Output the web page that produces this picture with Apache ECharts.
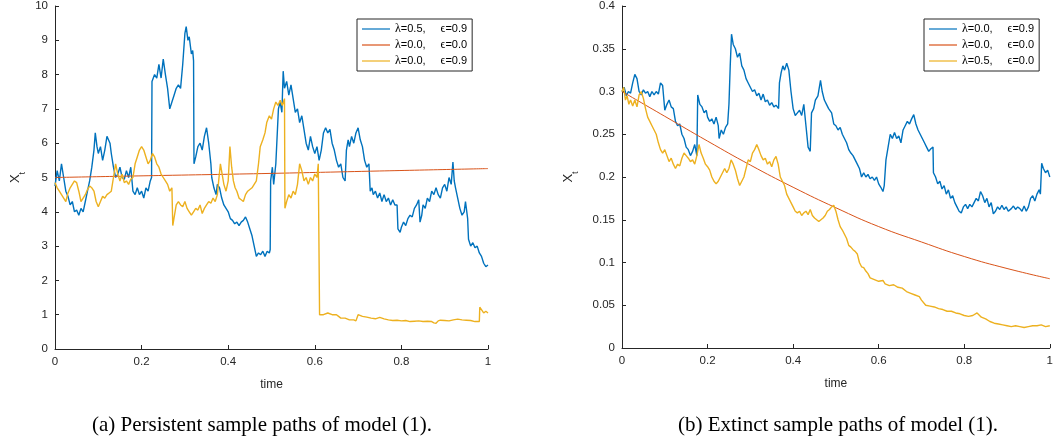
<!DOCTYPE html>
<html>
<head>
<meta charset="utf-8">
<script src="https://cdn.jsdelivr.net/npm/echarts@6/dist/echarts.min.js"></script>
<style>html,body{margin:0;padding:0;background:#fff;}#c{width:1056px;height:440px;}</style>
</head>
<body>
<div id="c"></div>
<script>
// ---- Data ----
const xTicks = [0, 0.2, 0.4, 0.6, 0.8, 1];
const legendA = ['λ=0.5|ϵ=0.9', 'λ=0.0|ϵ=0.0', 'λ=0.0|ϵ=0.9'];
const legendB = ['λ=0.0|ϵ=0.9', 'λ=0.0|ϵ=0.0', 'λ=0.5|ϵ=0.0'];
const captionA = '(a) Persistent sample paths of model (1).';
const captionB = '(b) Extinct sample paths of model (1).';

// Panel (a)
const aBlue = [[0,4.75],[0.005,5.2],[0.01,4.9],[0.015,5.4],[0.02,5.0],[0.025,4.6],[0.03,4.45],[0.035,4.2],[0.04,4.3],[0.045,4.0],[0.05,4.05],[0.055,3.9],[0.06,4.1],[0.065,4.0],[0.07,4.3],[0.075,4.6],[0.08,4.9],[0.085,5.3],[0.09,5.8],[0.093,6.3],[0.097,5.9],[0.1,5.7],[0.105,5.9],[0.11,5.5],[0.115,5.8],[0.12,6.2],[0.123,6.25],[0.127,6.0],[0.13,5.7],[0.135,5.3],[0.14,5.0],[0.145,5.1],[0.15,5.3],[0.155,5.0],[0.16,4.95],[0.165,5.2],[0.17,5.0],[0.175,5.3],[0.18,4.6],[0.185,4.5],[0.19,4.7],[0.195,4.5],[0.2,4.6],[0.205,4.4],[0.21,4.7],[0.215,4.6],[0.22,4.9],[0.223,5.0],[0.224,7.8],[0.23,8.0],[0.235,7.9],[0.24,8.3],[0.245,7.9],[0.25,8.45],[0.255,8.0],[0.26,7.6],[0.265,7.0],[0.27,7.2],[0.275,7.4],[0.28,7.6],[0.285,7.7],[0.29,7.6],[0.295,8.3],[0.3,9.2],[0.303,9.4],[0.307,9.0],[0.31,9.1],[0.315,8.6],[0.318,8.7],[0.32,8.4],[0.321,5.4],[0.325,5.6],[0.33,5.9],[0.335,6.0],[0.34,5.8],[0.345,6.2],[0.35,6.45],[0.355,6.0],[0.36,5.4],[0.362,5.0],[0.367,4.7],[0.372,4.5],[0.375,4.8],[0.38,4.7],[0.385,4.4],[0.39,4.2],[0.395,4.1],[0.4,4.0],[0.405,3.8],[0.41,3.75],[0.415,3.65],[0.42,3.7],[0.425,3.6],[0.43,3.7],[0.435,3.75],[0.44,3.85],[0.445,3.7],[0.45,3.5],[0.455,3.3],[0.46,3.0],[0.465,2.7],[0.47,2.8],[0.475,2.75],[0.48,2.85],[0.485,2.7],[0.49,2.85],[0.495,2.8],[0.497,2.9],[0.498,4.9],[0.502,5.3],[0.505,4.8],[0.51,5.4],[0.513,6.2],[0.516,7.0],[0.52,7.2],[0.524,6.9],[0.527,8.1],[0.53,7.6],[0.535,7.8],[0.54,7.4],[0.545,7.7],[0.55,7.3],[0.555,6.9],[0.56,7.0],[0.565,6.6],[0.57,6.8],[0.575,6.4],[0.58,6.0],[0.585,5.8],[0.59,6.2],[0.595,5.9],[0.6,5.7],[0.605,5.9],[0.61,5.5],[0.615,5.8],[0.62,6.3],[0.625,6.45],[0.63,6.3],[0.635,6.4],[0.64,6.0],[0.645,5.8],[0.65,5.5],[0.655,5.3],[0.66,5.4],[0.665,5.0],[0.67,4.9],[0.673,5.8],[0.677,6.1],[0.68,5.9],[0.685,6.2],[0.69,6.0],[0.695,6.3],[0.7,6.45],[0.705,6.1],[0.71,5.9],[0.715,5.5],[0.72,5.3],[0.725,5.4],[0.728,4.6],[0.732,4.7],[0.735,4.5],[0.74,4.6],[0.745,4.4],[0.75,4.55],[0.755,4.3],[0.76,4.5],[0.765,4.3],[0.77,4.4],[0.775,4.2],[0.78,4.35],[0.785,4.2],[0.79,4.2],[0.792,3.5],[0.797,3.4],[0.8,3.55],[0.805,3.7],[0.81,3.6],[0.815,3.8],[0.82,3.9],[0.825,3.85],[0.83,4.1],[0.835,4.2],[0.84,4.35],[0.843,3.7],[0.847,3.9],[0.85,4.2],[0.855,4.1],[0.86,4.4],[0.865,4.3],[0.87,4.6],[0.875,4.5],[0.88,4.7],[0.885,4.5],[0.89,4.4],[0.895,4.7],[0.9,4.8],[0.905,4.6],[0.91,5.0],[0.915,4.8],[0.919,5.45],[0.922,4.9],[0.925,4.7],[0.93,4.4],[0.935,4.1],[0.94,3.9],[0.945,4.0],[0.948,4.3],[0.951,4.35],[0.953,3.8],[0.955,3.2],[0.96,3.0],[0.965,3.1],[0.97,2.95],[0.975,3.0],[0.98,2.8],[0.985,2.7],[0.99,2.5],[0.995,2.4],[1.0,2.45]];
const aRed = [[0,5.0],[0.25,5.06],[0.5,5.12],[0.75,5.19],[1,5.26]];
const aYellow = [[0,4.85],[0.005,4.7],[0.01,4.6],[0.015,4.5],[0.02,4.4],[0.025,4.3],[0.03,4.55],[0.035,4.7],[0.04,4.8],[0.045,4.9],[0.05,4.85],[0.055,4.6],[0.06,4.3],[0.065,4.4],[0.07,4.5],[0.075,4.65],[0.08,4.75],[0.085,4.7],[0.09,4.6],[0.095,4.3],[0.1,4.15],[0.105,4.3],[0.11,4.45],[0.115,4.4],[0.12,4.5],[0.125,4.55],[0.13,4.6],[0.135,5.0],[0.14,5.4],[0.145,5.1],[0.15,4.9],[0.155,5.1],[0.16,4.85],[0.165,4.9],[0.17,4.8],[0.175,4.95],[0.18,5.0],[0.185,5.4],[0.19,5.6],[0.195,5.8],[0.2,5.9],[0.205,5.8],[0.21,5.6],[0.215,5.4],[0.22,5.5],[0.225,5.7],[0.23,5.6],[0.235,5.4],[0.24,5.3],[0.245,5.1],[0.25,5.0],[0.255,4.9],[0.26,4.8],[0.265,4.6],[0.27,4.7],[0.272,3.6],[0.276,3.9],[0.28,4.2],[0.285,4.3],[0.29,4.2],[0.295,4.15],[0.3,4.3],[0.305,4.1],[0.31,4.0],[0.315,3.9],[0.32,4.0],[0.325,4.1],[0.33,4.05],[0.335,4.2],[0.34,3.95],[0.345,4.1],[0.35,4.2],[0.355,4.3],[0.36,4.25],[0.365,4.4],[0.37,4.3],[0.375,4.5],[0.378,4.9],[0.382,5.4],[0.386,5.1],[0.39,4.8],[0.395,4.6],[0.4,4.9],[0.404,5.9],[0.408,5.3],[0.412,4.9],[0.416,4.7],[0.42,4.6],[0.425,4.4],[0.43,4.35],[0.435,4.3],[0.44,4.5],[0.445,4.6],[0.45,4.65],[0.455,4.7],[0.46,4.8],[0.465,4.9],[0.47,5.4],[0.474,5.9],[0.48,6.1],[0.485,6.3],[0.489,6.6],[0.495,6.8],[0.5,6.7],[0.505,7.0],[0.51,7.2],[0.515,7.1],[0.52,7.25],[0.525,7.1],[0.53,7.3],[0.531,4.1],[0.535,4.3],[0.54,4.5],[0.545,4.4],[0.55,4.6],[0.555,4.5],[0.56,4.8],[0.565,5.4],[0.57,5.2],[0.575,4.9],[0.58,5.0],[0.585,4.8],[0.59,5.0],[0.595,4.9],[0.6,5.1],[0.605,5.0],[0.608,5.4],[0.61,5.4],[0.611,1.0],[0.62,1.0],[0.63,1.05],[0.64,1.0],[0.65,1.0],[0.655,0.95],[0.66,0.9],[0.67,0.9],[0.68,0.85],[0.69,0.85],[0.695,0.82],[0.7,1.0],[0.71,0.95],[0.72,0.93],[0.73,0.9],[0.74,0.88],[0.75,0.92],[0.76,0.88],[0.77,0.85],[0.78,0.83],[0.79,0.84],[0.8,0.82],[0.81,0.83],[0.82,0.8],[0.83,0.81],[0.84,0.82],[0.85,0.8],[0.86,0.81],[0.87,0.8],[0.875,0.76],[0.88,0.75],[0.885,0.82],[0.89,0.84],[0.9,0.83],[0.91,0.82],[0.92,0.85],[0.93,0.87],[0.94,0.85],[0.95,0.84],[0.96,0.83],[0.97,0.8],[0.98,0.8],[0.981,1.22],[0.985,1.2],[0.99,1.05],[0.995,1.1],[1.0,1.05]];

// Panel (b)
const bBlue = [[0,0.3],[0.005,0.305],[0.01,0.295],[0.015,0.3],[0.02,0.298],[0.025,0.31],[0.03,0.32],[0.035,0.315],[0.04,0.3],[0.045,0.296],[0.05,0.302],[0.055,0.298],[0.06,0.3],[0.065,0.294],[0.07,0.3],[0.075,0.296],[0.08,0.3],[0.085,0.297],[0.09,0.31],[0.095,0.307],[0.1,0.278],[0.105,0.285],[0.11,0.29],[0.115,0.282],[0.12,0.28],[0.125,0.265],[0.13,0.26],[0.135,0.262],[0.14,0.25],[0.145,0.245],[0.15,0.235],[0.155,0.232],[0.16,0.225],[0.165,0.23],[0.17,0.238],[0.175,0.225],[0.177,0.296],[0.182,0.285],[0.187,0.282],[0.192,0.275],[0.197,0.278],[0.2,0.27],[0.205,0.265],[0.21,0.268],[0.215,0.262],[0.22,0.27],[0.225,0.26],[0.227,0.245],[0.232,0.255],[0.237,0.25],[0.242,0.258],[0.247,0.262],[0.25,0.285],[0.253,0.33],[0.256,0.367],[0.26,0.355],[0.265,0.35],[0.27,0.34],[0.275,0.345],[0.28,0.33],[0.285,0.325],[0.29,0.315],[0.295,0.31],[0.3,0.305],[0.305,0.3],[0.31,0.302],[0.315,0.295],[0.32,0.298],[0.325,0.29],[0.33,0.297],[0.335,0.288],[0.34,0.29],[0.345,0.284],[0.35,0.287],[0.355,0.282],[0.36,0.284],[0.366,0.28],[0.368,0.31],[0.372,0.322],[0.376,0.33],[0.38,0.325],[0.385,0.333],[0.39,0.325],[0.395,0.3],[0.4,0.28],[0.405,0.272],[0.41,0.275],[0.415,0.278],[0.42,0.272],[0.425,0.285],[0.43,0.26],[0.435,0.235],[0.44,0.23],[0.443,0.275],[0.448,0.28],[0.452,0.29],[0.458,0.295],[0.464,0.313],[0.468,0.3],[0.473,0.29],[0.478,0.285],[0.483,0.28],[0.49,0.275],[0.495,0.262],[0.5,0.26],[0.505,0.255],[0.51,0.258],[0.515,0.25],[0.52,0.245],[0.525,0.24],[0.53,0.232],[0.535,0.228],[0.54,0.225],[0.545,0.22],[0.55,0.215],[0.555,0.21],[0.56,0.2],[0.565,0.205],[0.57,0.2],[0.575,0.203],[0.58,0.198],[0.585,0.2],[0.59,0.196],[0.595,0.2],[0.6,0.192],[0.605,0.188],[0.61,0.183],[0.613,0.19],[0.617,0.22],[0.622,0.235],[0.627,0.25],[0.632,0.245],[0.637,0.252],[0.642,0.245],[0.647,0.248],[0.652,0.24],[0.657,0.255],[0.662,0.26],[0.667,0.265],[0.672,0.262],[0.677,0.268],[0.682,0.273],[0.687,0.262],[0.692,0.255],[0.697,0.25],[0.702,0.245],[0.707,0.24],[0.712,0.235],[0.717,0.23],[0.722,0.233],[0.727,0.235],[0.728,0.205],[0.733,0.2],[0.738,0.192],[0.743,0.195],[0.748,0.186],[0.753,0.19],[0.758,0.18],[0.763,0.185],[0.768,0.175],[0.773,0.178],[0.778,0.17],[0.783,0.165],[0.788,0.16],[0.793,0.158],[0.798,0.165],[0.803,0.168],[0.808,0.163],[0.813,0.168],[0.818,0.165],[0.823,0.17],[0.828,0.175],[0.833,0.172],[0.838,0.183],[0.843,0.178],[0.848,0.17],[0.853,0.175],[0.858,0.165],[0.863,0.17],[0.868,0.157],[0.873,0.16],[0.878,0.165],[0.883,0.162],[0.888,0.167],[0.893,0.162],[0.898,0.165],[0.903,0.16],[0.91,0.163],[0.915,0.166],[0.92,0.162],[0.925,0.165],[0.93,0.163],[0.935,0.16],[0.94,0.166],[0.945,0.16],[0.95,0.165],[0.955,0.175],[0.96,0.178],[0.965,0.172],[0.97,0.18],[0.975,0.185],[0.978,0.18],[0.981,0.216],[0.985,0.21],[0.99,0.205],[0.995,0.208],[1.0,0.2]];
const bRed = [[0,0.3],[0.1,0.271],[0.2,0.242],[0.3,0.214],[0.4,0.188],[0.5,0.164],[0.6,0.142],[0.7,0.124],[0.8,0.107],[0.9,0.093],[1.0,0.081]];
const bYellow = [[0,0.3],[0.004,0.305],[0.008,0.29],[0.012,0.295],[0.016,0.285],[0.02,0.29],[0.025,0.283],[0.03,0.29],[0.035,0.282],[0.04,0.296],[0.045,0.3],[0.05,0.292],[0.055,0.28],[0.06,0.27],[0.065,0.265],[0.07,0.26],[0.075,0.255],[0.08,0.25],[0.085,0.24],[0.09,0.232],[0.095,0.228],[0.1,0.232],[0.105,0.225],[0.11,0.218],[0.115,0.222],[0.12,0.215],[0.125,0.21],[0.13,0.215],[0.135,0.213],[0.14,0.222],[0.145,0.228],[0.15,0.225],[0.155,0.222],[0.16,0.218],[0.165,0.22],[0.17,0.215],[0.175,0.225],[0.18,0.238],[0.185,0.228],[0.19,0.222],[0.195,0.215],[0.2,0.212],[0.205,0.208],[0.21,0.2],[0.215,0.195],[0.22,0.192],[0.225,0.195],[0.23,0.2],[0.235,0.205],[0.24,0.21],[0.245,0.205],[0.25,0.21],[0.255,0.22],[0.26,0.215],[0.265,0.208],[0.27,0.198],[0.275,0.19],[0.28,0.195],[0.285,0.2],[0.29,0.21],[0.295,0.22],[0.3,0.218],[0.305,0.228],[0.31,0.232],[0.315,0.238],[0.32,0.232],[0.325,0.225],[0.33,0.22],[0.335,0.222],[0.34,0.215],[0.345,0.218],[0.35,0.212],[0.355,0.22],[0.36,0.224],[0.365,0.215],[0.37,0.2],[0.375,0.195],[0.38,0.19],[0.385,0.18],[0.39,0.175],[0.395,0.17],[0.4,0.165],[0.405,0.16],[0.41,0.158],[0.415,0.16],[0.42,0.155],[0.425,0.158],[0.43,0.16],[0.435,0.156],[0.44,0.162],[0.445,0.155],[0.45,0.152],[0.455,0.15],[0.46,0.148],[0.465,0.15],[0.47,0.152],[0.475,0.155],[0.48,0.16],[0.485,0.162],[0.49,0.165],[0.495,0.167],[0.5,0.16],[0.505,0.15],[0.51,0.142],[0.515,0.138],[0.52,0.133],[0.525,0.128],[0.53,0.12],[0.535,0.118],[0.54,0.115],[0.545,0.113],[0.55,0.11],[0.555,0.1],[0.56,0.095],[0.565,0.094],[0.57,0.09],[0.575,0.087],[0.58,0.082],[0.59,0.08],[0.6,0.078],[0.61,0.079],[0.615,0.075],[0.625,0.073],[0.635,0.074],[0.645,0.071],[0.655,0.07],[0.665,0.066],[0.675,0.064],[0.685,0.062],[0.695,0.06],[0.7,0.056],[0.71,0.05],[0.72,0.049],[0.73,0.048],[0.74,0.046],[0.75,0.045],[0.76,0.043],[0.77,0.043],[0.78,0.041],[0.79,0.04],[0.8,0.038],[0.81,0.037],[0.82,0.038],[0.83,0.041],[0.84,0.036],[0.85,0.034],[0.86,0.031],[0.87,0.029],[0.88,0.028],[0.89,0.027],[0.9,0.026],[0.91,0.025],[0.92,0.026],[0.93,0.025],[0.94,0.024],[0.95,0.025],[0.96,0.026],[0.97,0.026],[0.98,0.027],[0.99,0.025],[1.0,0.026]];

// ---- Chart ----
const C_BLUE = '#0072BD', C_RED = '#D95319', C_YEL = '#EDB120';
const AX = '#262626';
const SANS = '"Liberation Sans", Arial, Helvetica, sans-serif';
const SERIF = '"Liberation Serif", "Times New Roman", serif';

function legendFmt(name) {
  const p = name.replace(/#.*$/, '').split('|');
  const l = p[0].split('=');
  const e = p[1].split('=');
  return '{g|' + l[0] + '}{t|=' + l[1] + ',}{sp|}{g|' + e[0] + '}{t|=' + e[1] + '}';
}
const legendRich = {
  g: {fontFamily: SERIF, fontSize: 12, color: '#000', lineHeight: 12},
  t: {fontFamily: SANS, fontSize: 11, color: '#000', lineHeight: 12},
  sp: {width: 15}
};
function makeLegend(names, colors, left) {
  return {
    data: names.map((n, i) => ({name: n, icon: 'rect', itemStyle: {color: colors[i]}})),
    left: left, top: 19, orient: 'vertical',
    itemWidth: 28, itemHeight: 1.2, itemGap: 4,
    padding: [4, 5, 4, 5],
    borderColor: AX, borderWidth: 1, backgroundColor: '#fff',
    selectedMode: false,
    formatter: legendFmt,
    textStyle: {rich: legendRich}
  };
}
function xAx(gi) {
  return {
    gridIndex: gi, type: 'value', min: 0, max: 1, interval: 0.2,
    name: 'time', nameLocation: 'middle', nameGap: 30,
    nameTextStyle: {fontFamily: SANS, fontSize: 12, color: AX},
    axisLine: {lineStyle: {color: AX, width: 1}},
    axisTick: {inside: true, length: 4, lineStyle: {color: AX}},
    axisLabel: {fontFamily: SANS, fontSize: 11.5, color: AX, margin: 7},
    splitLine: {show: false}
  };
}
function yAx(gi, max, interval, gap) {
  return {
    gridIndex: gi, type: 'value', min: 0, max: max, interval: interval,
    name: '{x|X}{s|t}', nameLocation: 'middle', nameGap: gap, nameRotate: 90,
    nameTextStyle: {rich: {
      x: {fontFamily: SANS, fontSize: 13, color: AX, lineHeight: 24, verticalAlign: 'middle'},
      s: {fontFamily: SANS, fontSize: 9, color: AX, lineHeight: 10, verticalAlign: 'bottom'}
    }},
    axisLine: {show: true, lineStyle: {color: AX, width: 1}},
    axisTick: {show: true, inside: true, length: 4, lineStyle: {color: AX}},
    axisLabel: {fontFamily: SANS, fontSize: 11.5, color: AX, margin: 7},
    splitLine: {show: false}
  };
}
function line(name, data, color, gi, w, smooth) {
  return {
    name: name, type: 'line', xAxisIndex: gi, yAxisIndex: gi, data: data,
    symbol: 'none', smooth: !!smooth, animation: false,
    lineStyle: {color: color, width: w}, itemStyle: {color: color}
  };
}

const chart = echarts.init(document.getElementById('c'), null, {renderer: 'canvas'});
chart.setOption({
  backgroundColor: '#fff',
  animation: false,
  grid: [
    {left: 55, top: 6, width: 433, height: 343, containLabel: false},
    {left: 622, top: 6, width: 433, height: 342, containLabel: false}
  ],
  xAxis: [xAx(0), xAx(1)],
  yAxis: [yAx(0, 10, 1, 28), yAx(1, 0.4, 0.05, 42)],
  legend: [
    makeLegend(legendA.map(n => n + '#a'), [C_BLUE, C_RED, C_YEL], 357),
    makeLegend(legendB.map(n => n + '#b'), [C_BLUE, C_RED, C_YEL], 924)
  ],
  series: [
    line(legendA[0] + '#a', aBlue, C_BLUE, 0, 1.4),
    line(legendA[1] + '#a', aRed, C_RED, 0, 1, true),
    line(legendA[2] + '#a', aYellow, C_YEL, 0, 1.4),
    line(legendB[0] + '#b', bBlue, C_BLUE, 1, 1.4),
    line(legendB[1] + '#b', bRed, C_RED, 1, 1, true),
    line(legendB[2] + '#b', bYellow, C_YEL, 1, 1.4)
  ],
  graphic: [
    {type: 'text', x: 262, y: 425, style: {text: captionA, font: '21px ' + SERIF, fill: '#000', align: 'center', verticalAlign: 'middle'}},
    {type: 'text', x: 838, y: 425, style: {text: captionB, font: '21px ' + SERIF, fill: '#000', align: 'center', verticalAlign: 'middle'}}
  ]
});
</script>
</body>
</html>
